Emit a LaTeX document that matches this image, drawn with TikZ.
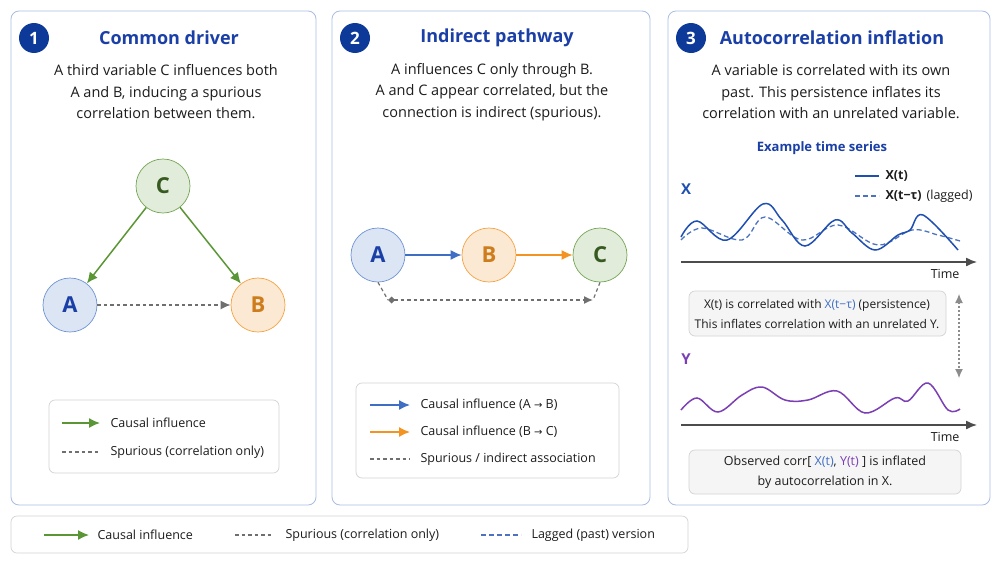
\documentclass[tikz,border=0pt]{standalone}
\usepackage{fontspec}
\setmainfont{Open Sans}
\newfontfamily\symfont{DejaVu Sans}
\usetikzlibrary{arrows.meta}

\definecolor{ink}{HTML}{1C1C1C}
\definecolor{panelblue}{HTML}{A8BDE3}
\definecolor{numblue}{HTML}{0D3A99}
\definecolor{titleblue}{HTML}{1A3FA6}
\definecolor{causalgreen}{HTML}{5B9636}
\definecolor{spurgray}{HTML}{6F6F6F}
\definecolor{abblue}{HTML}{3F6FC4}
\definecolor{bcorange}{HTML}{F29322}
\definecolor{ypurple}{HTML}{7B3FB5}
\definecolor{xblue}{HTML}{1F4FB0}
\definecolor{boxgray}{HTML}{D3D3D3}

\begin{document}
\begin{tikzpicture}[x=1pt, y=-1pt,
	panel/.style={draw=panelblue, line width=0.8pt, rounded corners=8pt, fill=white},
	numdot/.style={circle, fill=numblue, text=white, minimum size=30pt, inner sep=0pt, font=\fontsize{17}{17}\selectfont\bfseries},
	title/.style={text=titleblue, font=\fontsize{18}{20}\selectfont\bfseries},
	body/.style={align=center, text=ink, font=\fontsize{14.5}{21.5}\selectfont},
	var/.style={circle, draw, minimum size=54pt, inner sep=0pt, line width=0.7pt, font=\fontsize{22}{22}\selectfont\bfseries},
	varA/.style={var, fill=abblue!18, draw=abblue!75, text=titleblue},
	varB/.style={var, fill=bcorange!20, draw=bcorange!85, text=bcorange!85!black},
	varC/.style={var, fill=causalgreen!18, draw=causalgreen!85, text=causalgreen!60!black},
	causal/.style={causalgreen, line width=1.5pt, -{Latex[length=11pt,width=10pt]}},
	spur/.style={spurgray, line width=1.4pt, dash pattern=on 3.5pt off 3pt},
	legbox/.style={draw=boxgray, line width=0.7pt, rounded corners=6pt, fill=white},
	infobox/.style={draw=boxgray, line width=0.7pt, rounded corners=6pt, fill=black!4},
	legtext/.style={anchor=west, text=ink, font=\fontsize{12.5}{16}\selectfont},
	small/.style={text=ink, font=\fontsize{12}{20}\selectfont, align=center},
	axis/.style={black!70, line width=1.4pt, -{Latex[length=11pt,width=9pt]}},
	xsolid/.style={xblue, line width=1.5pt},
	xlag/.style={xblue!80, line width=1.3pt, dash pattern=on 5pt off 3pt}
]

	\useasboundingbox (0,0) rectangle (1000,562);
	\fill[white] (0,0) rectangle (1000,562);

	\draw[panel] (11,11) rectangle (316,505);
	\draw[panel] (332,11) rectangle (650,505);
	\draw[panel] (668,11) rectangle (990,505);
	\draw[legbox] (11,516) rectangle (688,553);

	\node (n1) [numdot] at (34,38) {1};
	\node (t1) [title] at (169,38) {Common driver};
	\node (d1) [body] at (166,92) {A third variable C influences both\\A and B, inducing a spurious\\correlation between them.};

	\node (c) [varC] at (163,186) {C};
	\node (a) [varA] at (70,305) {A};
	\node (b) [varB] at (258,305) {B};

	\path
	(c) edge[causal] (a)
	(c) edge[causal] (b)
	(a) edge[spur, -{Latex[length=10pt,width=9pt]}] (b);

	\draw[legbox] (49,400) rectangle (279,473);
	\coordinate (k1) at (62,423);
	\coordinate (k2) at (62,452);
	\node (l1) [legtext] at (107,423) {Causal influence};
	\node (l2) [legtext] at (107,452) {Spurious (correlation only)};
	\draw[causal] (k1) -- ++(38,0);
	\draw[spur] (k2) -- ++(38,0);

	\node (n2) [numdot] at (355,38) {2};
	\node (t2) [title] at (497,38) {Indirect pathway};
	\node (d2) [body] at (492,92) {A influences C only through B.\\A and C appear correlated, but the\\connection is indirect (spurious).};

	\node (pa) [varA] at (378,255) {A};
	\node (pb) [varB] at (489,255) {B};
	\node (pc) [varC] at (600,255) {C};

	\path
	(pa) edge[causal, abblue] (pb)
	(pb) edge[causal, bcorange] (pc);

	\coordinate (sl) at (388,300);
	\coordinate (sr) at (593,300);
	\draw[spur, line width=1.2pt] (pa.south) -- (sl);
	\draw[spur, line width=1.2pt] (pc.south) -- (sr);
	\draw[spur, {Diamond[length=7pt,width=7pt]}-{Latex[length=9pt,width=8pt]}] (sl) -- (sr);

	\draw[legbox] (356,383) rectangle (619,478);
	\coordinate (k3) at (370,405);
	\coordinate (k4) at (370,432);
	\coordinate (k5) at (370,459);
	\node (l3) [legtext] at (417,405) {Causal influence (A {\symfont\fontsize{10}{10}\selectfont →} B)};
	\node (l4) [legtext] at (417,432) {Causal influence (B {\symfont\fontsize{10}{10}\selectfont →} C)};
	\node (l5) [legtext] at (417,459) {Spurious / indirect association};
	\draw[causal, abblue] (k3) -- ++(40,0);
	\draw[causal, bcorange] (k4) -- ++(40,0);
	\draw[spur] (k5) -- ++(40,0);

	\node (n3) [numdot] at (691,38) {3};
	\node (t3) [title] at (832,38) {Autocorrelation inflation};
	\node (d3) [body] at (831,92) {A variable is correlated with its own\\past. This persistence inflates its\\correlation with an unrelated variable.};
	\node (ex) [text=titleblue, font=\fontsize{13}{16}\selectfont\bfseries] at (822,148) {Example time series};

	\node (xl) [text=xblue, font=\fontsize{15}{16}\selectfont\bfseries] at (686,189) {X};
	\coordinate (k6) at (855,176);
	\coordinate (k7) at (855,196);
	\draw[xsolid] (k6) -- ++(24,0);
	\draw[xlag] (k7) -- ++(24,0);
	\node (l6) [legtext, font=\fontsize{12.5}{16}\selectfont\bfseries] at (882,176) {X(t)};
	\node (l7) [legtext] at (882,196) {\bfseries X(t−τ)\hspace{5pt}\mdseries(lagged)};

	\draw[xlag] plot[smooth, tension=0.6] coordinates {(681,240) (702,228) (742,240) (765,217) (802,240) (838,225) (878,245) (912,230) (938,235) (960,241)};
	\draw[xsolid] plot[smooth, tension=0.6] coordinates {(681,237) (697,221) (727,240) (763,204) (782,220) (805,246) (835,220) (852,233) (875,250) (898,235) (910,230) (923,215) (958,250)};

	\coordinate (x0) at (681,262);
	\coordinate (x1) at (977,262);
	\draw[axis] (x0) -- (x1);
	\node (tx) [anchor=east, text=ink, font=\fontsize{12.5}{14}\selectfont] at (963,274) {Time};

	\draw[infobox] (689,291) rectangle (946,336);
	\node (i1) [small] at (817,314) {X(t) is correlated with \textcolor{abblue}{X(t−τ)} (persistence)\\This inflates correlation with an unrelated Y.};

	\coordinate (v0) at (959,294);
	\coordinate (v1) at (959,378);
	\draw[spurgray!80, line width=1.1pt, dash pattern=on 2pt off 2pt, {Latex[length=9pt,width=8pt]}-{Latex[length=9pt,width=8pt]}] (v0) -- (v1);

	\node (yl) [text=ypurple, font=\fontsize{15}{16}\selectfont\bfseries] at (686,359) {Y};
	\draw[ypurple, line width=1.5pt] plot[smooth, tension=0.6] coordinates {(681,410) (697,398) (718,412) (742,395) (762,387) (785,400) (808,400) (837,391) (865,413) (895,398) (908,401) (928,383) (948,410) (960,409)};

	\coordinate (y0) at (681,425);
	\coordinate (y1) at (977,425);
	\draw[axis] (y0) -- (y1);
	\node (ty) [anchor=east, text=ink, font=\fontsize{12.5}{14}\selectfont] at (963,437) {Time};

	\draw[infobox] (689,450) rectangle (961,494);
	\node (i2) [small, font=\fontsize{12.5}{20}\selectfont] at (825,472) {Observed corr[ \textcolor{abblue}{X(t)}, \textcolor{ypurple}{Y(t)} ] is inflated\\by autocorrelation in X.};

	\coordinate (k8) at (44,535);
	\coordinate (k9) at (235,535);
	\coordinate (k10) at (481,535);
	\draw[causal] (k8) -- ++(45,0);
	\draw[spur] (k9) -- ++(38,0);
	\draw[xlag] (k10) -- ++(40,0);
	\node (b1) [legtext] at (94,535) {Causal influence};
	\node (b2) [legtext] at (282,535) {Spurious (correlation only)};
	\node (b3) [legtext] at (528,535) {Lagged (past) version};

\end{tikzpicture}
\end{document}
